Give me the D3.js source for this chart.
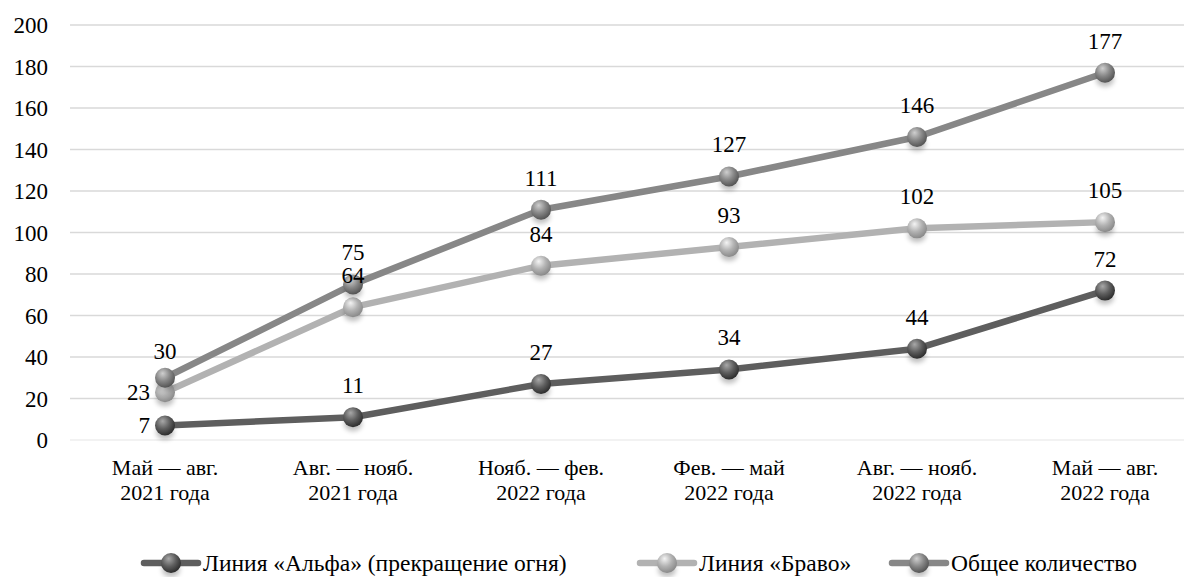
<!DOCTYPE html>
<html>
<head>
<meta charset="utf-8">
<script src="https://cdn.jsdelivr.net/npm/d3@7"></script>
<style>
  body { margin: 0; background: #fff; }
  svg { display: block; }
</style>
</head>
<body>
<svg id="chart" width="1184" height="577"></svg>
<script>
// data
const categories = [
  ["Май — авг.", "2021 года"],
  ["Авг. — нояб.", "2021 года"],
  ["Нояб. — фев.", "2022 года"],
  ["Фев. — май", "2022 года"],
  ["Авг. — нояб.", "2022 года"],
  ["Май — авг.", "2022 года"]
];
const alphaValues = [7, 11, 27, 34, 44, 72];
const bravoValues = [23, 64, 84, 93, 102, 105];
const totalValues = [30, 75, 111, 127, 146, 177];
const yTicks = [0, 20, 40, 60, 80, 100, 120, 140, 160, 180, 200];
const seriesNames = ["Линия «Альфа» (прекращение огня)", "Линия «Браво»", "Общее количество"];

const width = 1184, height = 577;
const svg = d3.select("#chart");
const serif = "Liberation Serif, Times New Roman, DejaVu Serif, serif";

const x = d3.scalePoint()
  .domain(d3.range(categories.length))
  .range([71, 1199])
  .padding(0.5);

const y = d3.scaleLinear()
  .domain([0, 200])
  .range([440, 25]);

const series = [
  { name: seriesNames[0], values: alphaValues, color: "#5e5e5e", light: "#a8a8a8", dark: "#2e2e2e" },
  { name: seriesNames[1], values: bravoValues, color: "#b2b2b2", light: "#f4f4f4", dark: "#8a8a8a" },
  { name: seriesNames[2], values: totalValues, color: "#878787", light: "#cfcfcf", dark: "#555555" }
];

//* gradients + shadow
const defs = svg.append("defs");
series.forEach((s, i) => {
  const g = defs.append("radialGradient")
    .attr("id", "ball" + i)
    .attr("cx", "40%").attr("cy", "35%").attr("r", "65%")
    .attr("fx", "38%").attr("fy", "28%");
  g.append("stop").attr("offset", "0%").attr("stop-color", s.light);
  g.append("stop").attr("offset", "55%").attr("stop-color", s.color);
  g.append("stop").attr("offset", "100%").attr("stop-color", s.dark);
});
const shadow = defs.append("filter").attr("id", "shadow")
  .attr("x", "-50%").attr("y", "-50%").attr("width", "200%").attr("height", "200%");
shadow.append("feGaussianBlur").attr("stdDeviation", 2.5);

//* gridlines
svg.append("g")
  .selectAll("line")
  .data(yTicks)
  .join("line")
  .attr("x1", 70).attr("x2", width)
  .attr("y1", d => y(d)).attr("y2", d => y(d))
  .attr("stroke", d => d === 0 ? "#eeeeee" : "#d9d9d9")
  .attr("stroke-width", 1.5);

//* y axis labels
svg.append("g")
  .selectAll("text")
  .data(yTicks)
  .join("text")
  .attr("x", 48)
  .attr("y", d => y(d) + 8)
  .attr("text-anchor", "end")
  .attr("font-family", serif)
  .attr("font-size", 23)
  .attr("fill", "#000")
  .text(d => d);

//* x axis labels
const xl = svg.append("g")
  .selectAll("text")
  .data(categories)
  .join("text")
  .attr("text-anchor", "middle")
  .attr("font-family", serif)
  .attr("font-size", 22)
  .attr("fill", "#000");
xl.append("tspan").attr("x", (d, i) => x(i)).attr("y", 475).text(d => d[0]);
xl.append("tspan").attr("x", (d, i) => x(i)).attr("y", 500).text(d => d[1]);

//* lines
const line = d3.line()
  .x((d, i) => x(i))
  .y(d => y(d));

series.forEach((s, si) => {
  svg.append("path")
    .datum(s.values)
    .attr("fill", "none")
    .attr("stroke", s.color)
    .attr("stroke-width", 6.5)
    .attr("stroke-linejoin", "round")
    .attr("d", line);
});

function ball(g, cx, cy, si) {
  g.append("ellipse")
    .attr("cx", cx).attr("cy", cy + 7)
    .attr("rx", 9).attr("ry", 7)
    .attr("fill", "#000").attr("opacity", 0.25)
    .attr("filter", "url(#shadow)");
  g.append("circle")
    .attr("cx", cx).attr("cy", cy).attr("r", 10)
    .attr("fill", `url(#ball${si})`);
}

//* markers
series.forEach((s, si) => {
  const g = svg.append("g");
  s.values.forEach((v, i) => ball(g, x(i), y(v), si));
});

//* data labels (first point of alpha and bravo sits left of marker)
series.forEach((s, si) => {
  svg.append("g")
    .selectAll("text")
    .data(s.values)
    .join("text")
    .attr("font-family", serif)
    .attr("font-size", 23)
    .attr("fill", "#000")
    .attr("text-anchor", (d, i) => (i === 0 && si < 2) ? "end" : "middle")
    .attr("x", (d, i) => (i === 0 && si < 2) ? x(i) - 15 : x(i))
    .attr("y", (d, i) => (i === 0 && si < 2) ? y(d) + 8 : y(d) - (i === 0 ? 19 : 24))
    .text(d => d);
});

//* legend
const legendX = [144, 640, 892];
series.forEach((s, si) => {
  const g = svg.append("g").attr("transform", `translate(${legendX[si]},563)`);
  g.append("line")
    .attr("x1", 0).attr("x2", 54)
    .attr("stroke", s.color).attr("stroke-width", 6.5)
    .attr("stroke-linecap", "round");
  ball(g, 27, 0, si);
  g.append("text")
    .attr("x", 59).attr("y", 8)
    .attr("font-family", serif)
    .attr("font-size", 23.5)
    .attr("fill", "#000")
    .text(s.name);
});
</script>
</body>
</html>
